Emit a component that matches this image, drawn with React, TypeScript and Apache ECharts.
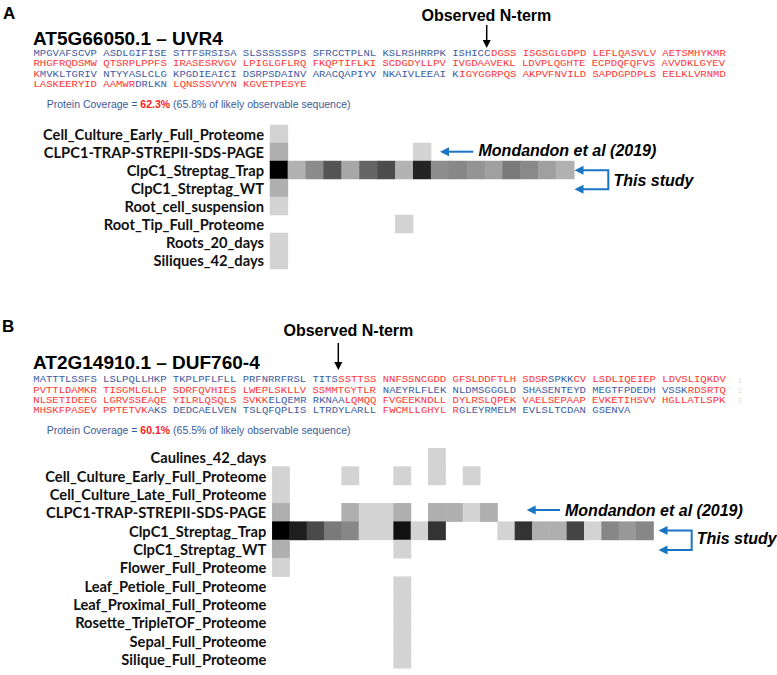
import React, { useEffect, useRef } from "react";
import * as echarts from "echarts";

// ---------- Data ----------
const rowsA = [
  "Cell_Culture_Early_Full_Proteome",
  "CLPC1-TRAP-STREPII-SDS-PAGE",
  "ClpC1_Streptag_Trap",
  "ClpC1_Streptag_WT",
  "Root_cell_suspension",
  "Root_Tip_Full_Proteome",
  "Roots_20_days",
  "Siliques_42_days",
];
const colsA = ["p1","p2","p3","p4","p5","p6","p7","p8","p9","p10","p11","p12","p13","p14","p15","p16","p17"];
const _ = null;
// intensity 0..100 (0 = lightest grey, 100 = black); null = not observed
const valuesA: (number | null)[][] = [
  [0,_,_,_,_,_,_,_,_,_,_,_,_,_,_,_,_],
  [17,_,_,_,_,_,_,_,0,_,_,_,_,_,_,_,_],
  [100,16,34,60,21,52,64,15,83,33,36,30,24,42,35,24,16],
  [17,_,_,_,_,_,_,_,_,_,_,_,_,_,_,_,_],
  [0,_,_,_,_,_,_,_,_,_,_,_,_,_,_,_,_],
  [_,_,_,_,_,_,_,0,_,_,_,_,_,_,_,_,_],
  [0,_,_,_,_,_,_,_,_,_,_,_,_,_,_,_,_],
  [0,_,_,_,_,_,_,_,_,_,_,_,_,_,_,_,_],
];

const rowsB = [
  "Caulines_42_days",
  "Cell_Culture_Early_Full_Proteome",
  "Cell_Culture_Late_Full_Proteome",
  "CLPC1-TRAP-STREPII-SDS-PAGE",
  "ClpC1_Streptag_Trap",
  "ClpC1_Streptag_WT",
  "Flower_Full_Proteome",
  "Leaf_Petiole_Full_Proteome",
  "Leaf_Proximal_Full_Proteome",
  "Rosette_TripleTOF_Proteome",
  "Sepal_Full_Proteome",
  "Silique_Full_Proteome",
];
const colsB = ["p1","p2","p3","p4","p5","p6","p7","p8","p9","p10","p11","p12","p13","p14","p15","p16","p17","p18","p19","p20","p21","p22"];
const valuesB: (number | null)[][] = [
  [_,_,_,_,_,_,_,_,_,0,_,_,_,_,_,_,_,_,_,_,_,_],
  [0,_,_,_,0,_,_,0,_,0,_,0,_,_,_,_,_,_,_,_,_,_],
  [0,_,_,_,_,_,_,_,_,_,_,_,_,_,_,_,_,_,_,_,_,_],
  [17,_,_,_,17,0,0,17,_,17,17,0,17,_,_,_,_,_,_,_,_,_],
  [100,86,65,42,36,0,0,92,0,76,_,_,_,0,76,17,17,68,0,36,28,36],
  [17,_,_,_,_,_,_,0,_,_,_,_,_,_,_,_,_,_,_,_,_,_],
  [0,_,_,_,_,_,_,_,_,_,_,_,_,_,_,_,_,_,_,_,_,_],
  [_,_,_,_,_,_,_,0,_,_,_,_,_,_,_,_,_,_,_,_,_,_],
  [_,_,_,_,_,_,_,0,_,_,_,_,_,_,_,_,_,_,_,_,_,_],
  [_,_,_,_,_,_,_,0,_,_,_,_,_,_,_,_,_,_,_,_,_,_],
  [_,_,_,_,_,_,_,0,_,_,_,_,_,_,_,_,_,_,_,_,_,_],
  [_,_,_,_,_,_,_,0,_,_,_,_,_,_,_,_,_,_,_,_,_,_],
];

// sequence lines: [text, "b" = not observed (blue) | "r" = observed (red)]
const seqA: [string, string][][] = [
  [["MPGVAFSCVP ASDLGIFISE STTFSRSISA SLSSSSSSPS SFRCCTPLNL KSLRSHRRPK ISHICC", "b"], ["DGSS ISGSGLGDPD LEFLQASVLV AETSMHYKMR", "r"]],
  [["RHGFRQDSMW QTSRPLPPFS IRASESRVGV LPIGLGFLRQ FKQPTIFLKI SCDGDYLLPV IVGDAAVEKL LDVPLQGHTE ECPDQFQFVS AVVDKLGYEV", "r"]],
  [["K", "r"], ["MVKLTGRIV NTYYASLCLG KPGDIEAICI DSRPSDAINV ARACQAPIYV NKAIVLEEAI K", "b"], ["IGYGGRPQS AKPVFNVILD SAPDGPDPLS EELKLVRNMD", "r"]],
  [["LASKEERYID AAMWR", "r"], ["DRLKN", "b"], [" LQNSSSVVYN KGVETPESYE", "r"]],
];
const seqB: [string, string][][] = [
  [["MATTTLSSFS LSLPQLLHKP TKPLPFLFLL PRFNRRFRSL TITS", "b"], ["SSTTSS NNFSSNCGDD GFSLDDFTLH SDSR", "r"], ["SPKK", "b"], ["CV LSDLIQEIEP LDVSLIQKDV", "r"]],
  [["PVTTLDAMKR TISGMLGLLP SDRFQVHIES LWEPLSKLLV SSMMTGYTLR ", "r"], ["NAEYRLFLEK NLDMSGGGLD SHASENTEYD MEGTFPDEDH VSSK", "b"], ["RDSRTQ", "r"]],
  [["NLSETIDEEG LGRVSSEAQE YILRLQSQLS SVKK", "r"], ["ELQEMR RKNAA", "b"], ["LQMQQ FVGEEKNDLL DYLRSLQPEK VAELSEPAAP EVKETIHSVV HGLLATLSPK", "r"]],
  [["MHSKFPASEV PPTETVK", "r"], ["AKS DEDCAELVEN TSLQFQPLIS LTRDYLARLL ", "b"], ["FWCMLLGHYL R", "r"], ["GLEYRMELM EVLSLTCDAN GSENVA", "b"]],
];

const coverageA = ["62.3%", "65.8%"];
const coverageB = ["60.1%", "65.5%"];

// ---------- Styling ----------
const BLUE_SEQ = "#3d5ca3";
const RED_SEQ = "#ff3535";
const ARROW_BLUE = "#1a74c4";
const CHAR_W = 6.355;
const SEQ_SCALE_Y = 0.86;
const MONO = "'Liberation Mono', 'DejaVu Sans Mono', monospace";
const SANS = "'Liberation Sans', Arial, sans-serif";

function toHeat(vals: (number | null)[][]) {
  const out: number[][] = [];
  vals.forEach((row, r) =>
    row.forEach((v, c) => {
      if (v !== null) out.push([c, r, v]);
    })
  );
  return out;
}

function txt(text: string, x: number, y: number, extra: any = {}, el: any = {}) {
  return {
    type: "text",
    x,
    y,
    silent: true,
    ...el,
    style: {
      text,
      fill: "#000",
      fontFamily: SANS,
      fontSize: 12,
      align: "left",
      textAlign: "left",
      verticalAlign: "middle",
      textVerticalAlign: "middle",
      ...extra,
    },
  };
}

function seqElems(lines: [string, string][][], x0: number, ys: number[]) {
  const els: any[] = [];
  lines.forEach((segs, li) => {
    let off = 0;
    segs.forEach(([s, k]) => {
      els.push(
        txt(
          s,
          x0 + off * CHAR_W,
          ys[li],
          {
            fontFamily: MONO,
            fontSize: CHAR_W / 0.6,
            fill: k === "r" ? RED_SEQ : BLUE_SEQ,
          },
          { scaleY: SEQ_SCALE_Y }
        )
      );
      off += s.length;
    });
  });
  return els;
}

function coverageElem(cov: string[], x: number, y: number) {
  return {
    type: "text",
    x,
    y,
    silent: true,
    style: {
      text: `{a|Protein Coverage = }{b|${cov[0]}}{a| (${cov[1]} of likely observable sequence)}`,
      align: "left",
      textAlign: "left",
      verticalAlign: "middle",
      textVerticalAlign: "middle",
      rich: {
        a: { fontFamily: SANS, fontSize: 10.5, fill: "#3c5a9a", color: "#3c5a9a" },
        b: { fontFamily: SANS, fontSize: 10.5, fontWeight: "bold", fill: "#ff2020", color: "#ff2020" },
      },
    },
  };
}

function downArrow(x: number, y1: number, y2: number) {
  return [
    { type: "line", silent: true, shape: { x1: x, y1, x2: x, y2: y2 - 6 }, style: { stroke: "#000", lineWidth: 1.5 } },
    { type: "polygon", silent: true, shape: { points: [[x - 4, y2 - 8], [x + 4, y2 - 8], [x, y2]] }, style: { fill: "#000" } },
  ];
}

function leftHead(xTip: number, y: number) {
  return { type: "polygon", silent: true, shape: { points: [[xTip, y], [xTip + 9, y - 4.5], [xTip + 9, y + 4.5]] }, style: { fill: ARROW_BLUE } };
}

function leftArrow(xTail: number, xTip: number, y: number) {
  return [
    { type: "line", silent: true, shape: { x1: xTail, y1: y, x2: xTip + 7, y2: y }, style: { stroke: ARROW_BLUE, lineWidth: 2 } },
    leftHead(xTip, y),
  ];
}

function bracket(xV: number, xTip: number, yTop: number, yBot: number) {
  return [
    { type: "polyline", silent: true, shape: { points: [[xTip + 7, yTop], [xV, yTop], [xV, yBot], [xTip + 7, yBot]] }, style: { stroke: ARROW_BLUE, lineWidth: 2, fill: "none" } },
    leftHead(xTip, yTop),
    leftHead(xTip, yBot),
  ];
}

export default function App() {
  const ref = useRef<HTMLDivElement>(null);
  useEffect(() => {
    if (!ref.current) return;
    const chart = echarts.init(ref.current, null, { renderer: "svg" });
    const labelStyle = {
      fontFamily: "Lato, 'Open Sans', sans-serif",
      fontWeight: "bold",
      fontSize: 14.7,
      color: "#111",
      margin: 6,
      interval: 0,
    };
    const hiddenX = { type: "category", show: false, axisLine: { show: false }, axisTick: { show: false }, splitLine: { show: false } };
    const yBase = { type: "category", inverse: true, axisLine: { show: false }, axisTick: { show: false }, splitLine: { show: false } };

    const graphics: any[] = [
      txt("A", 3, 13, { fontSize: 17, fontWeight: "bold" }),
      txt("AT5G66050.1 – UVR4", 33, 38.5, { fontSize: 19, fontWeight: "bold" }),
      txt("Observed N-term", 421.5, 15, { fontSize: 16, fontWeight: "bold" }),
      ...downArrow(486.7, 25, 48),
      ...seqElems(seqA, 33.5, [53.3, 63.8, 74.3, 84.8]),
      coverageElem(coverageA, 46.7, 103.5),
      txt("Mondandon et al (2019)", 478.5, 150.5, { fontSize: 16, fontWeight: "bold", fontStyle: "italic" }),
      ...leftArrow(473.3, 440, 151.7),
      ...bracket(608.3, 574.5, 170.3, 189.3),
      txt("This study", 613.5, 180, { fontSize: 16, fontWeight: "bold", fontStyle: "italic" }),

      txt("B", 2, 326, { fontSize: 17, fontWeight: "bold" }),
      txt("Observed N-term", 283.5, 330, { fontSize: 16, fontWeight: "bold" }),
      ...downArrow(338.3, 343, 370),
      txt("AT2G14910.1 – DUF760-4", 33, 362, { fontSize: 19, fontWeight: "bold" }),
      ...seqElems(seqB, 33.3, [380, 390.3, 400.6, 410.9]),
      txt("1", 738, 380, { fontSize: 7, fill: "#dcdcd4" }),
      txt("2", 738, 390.3, { fontSize: 7, fill: "#dcdcd4" }),
      txt("3", 738, 400.6, { fontSize: 7, fill: "#dcdcd4" }),
      coverageElem(coverageB, 46.7, 430),
      txt("Mondandon et al (2019)", 565, 510, { fontSize: 16, fontWeight: "bold", fontStyle: "italic" }),
      ...leftArrow(560, 526.7, 510),
      ...bracket(691.7, 658.5, 530.5, 550),
      txt("This study", 696.7, 538.5, { fontSize: 16, fontWeight: "bold", fontStyle: "italic" }),
    ];

    chart.setOption({
      animation: false,
      backgroundColor: "#fff",
      grid: [
        { left: 270, top: 125, width: 304.3, height: 144 },
        { left: 272.3, top: 448.3, width: 381.3, height: 220 },
      ],
      xAxis: [
        { ...hiddenX, gridIndex: 0, data: colsA },
        { ...hiddenX, gridIndex: 1, data: colsB },
      ],
      yAxis: [
        { ...yBase, gridIndex: 0, data: rowsA, axisLabel: labelStyle },
        { ...yBase, gridIndex: 1, data: rowsB, axisLabel: labelStyle },
      ],
      visualMap: [
        {
          type: "continuous",
          show: false,
          min: 0,
          max: 100,
          seriesIndex: [0, 1],
          inRange: { color: ["#d3d3d3", "#000000"] },
        },
      ],
      series: [
        { type: "heatmap", xAxisIndex: 0, yAxisIndex: 0, data: toHeat(valuesA), itemStyle: { borderWidth: 0 }, emphasis: { disabled: true } },
        { type: "heatmap", xAxisIndex: 1, yAxisIndex: 1, data: toHeat(valuesB), itemStyle: { borderWidth: 0 }, emphasis: { disabled: true } },
      ],
      graphic: graphics,
    });
    return () => chart.dispose();
  }, []);
  return <div ref={ref} style={{ position: "fixed", left: 0, top: 0, width: 777, height: 675, background: "#fff" }} />;
}
